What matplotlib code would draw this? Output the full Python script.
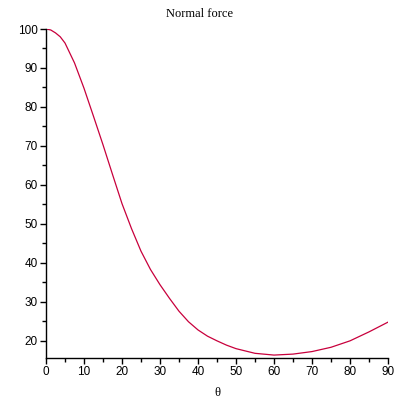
import matplotlib
matplotlib.use("Agg")
import matplotlib.pyplot as plt
from matplotlib.ticker import MultipleLocator

# values
theta = [0, 1.25, 2.5, 3.75, 5, 7.5, 10, 12.5, 15, 17.5, 20, 22.5, 25, 27.5, 30,
         32.5, 35, 37.5, 40, 42.5, 45, 47.5, 50, 55, 60, 65, 70, 75, 80, 85, 90]
normal = [100, 99.75, 99.0, 98.0, 96.4, 91.3, 84.8, 77.6, 70.3, 62.7, 55.2, 48.8,
          43.0, 38.3, 34.4, 30.9, 27.6, 24.9, 22.8, 21.2, 20.0, 18.9, 18.0,
          16.8, 16.35, 16.6, 17.25, 18.35, 20.0, 22.3, 24.8]

fig = plt.figure(figsize=(4, 4), dpi=100)
ax = fig.add_axes([0.115, 0.105, 0.855, 0.8225])

ax.plot(theta, normal, color="#c8003c", lw=0.9)

ax.set_xlim(0, 90)
ax.set_ylim(15.6, 100)
ax.xaxis.set_major_locator(MultipleLocator(10))
ax.xaxis.set_minor_locator(MultipleLocator(5))
ax.yaxis.set_major_locator(MultipleLocator(10))
ax.yaxis.set_minor_locator(MultipleLocator(5))

for s in ["top", "right"]:
    ax.spines[s].set_visible(False)
for s in ["left", "bottom"]:
    ax.spines[s].set_linewidth(1.0)

ax.tick_params(which="major", length=4, width=1, pad=2, labelsize=8.5)
ax.tick_params(which="minor", length=3, width=1)
for lab in ax.get_xticklabels() + ax.get_yticklabels():
    lab.set_family("Liberation Sans")

ax.set_xlabel("θ", family="Liberation Serif", fontsize=9, labelpad=6)
fig.text(0.5, 0.965, "Normal force", ha="center", va="center",
         family="Liberation Serif", fontsize=9)

fig.savefig("out.png", dpi=100)
